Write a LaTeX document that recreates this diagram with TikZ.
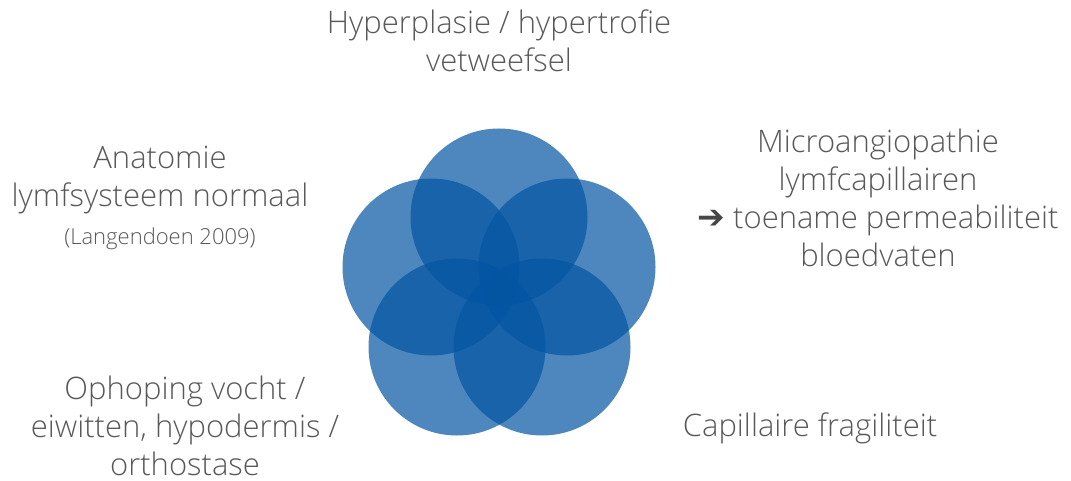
\documentclass[tikz,border=0pt]{standalone}
\usepackage{fontspec}
\setmainfont{Open Sans}[UprightFont=* Light]
\newfontfamily\symfont{DejaVu Sans}
\definecolor{blob}{RGB}{2,84,162}
\definecolor{txt}{RGB}{89,89,89}
\definecolor{arr}{RGB}{70,70,70}
\begin{document}
\begin{tikzpicture}[x=1pt,y=-1pt,
  petal/.style={fill=blob,fill opacity=0.7,draw=none},
  lbl/.style={text=txt,align=center,font=\fontsize{31}{38}\selectfont,inner sep=0pt}]
\useasboundingbox (0,0) rectangle (1071,481);
\fill[petal] (499,217) circle (88.5);
\fill[petal] (431,267) circle (88.5);
\fill[petal] (567,267) circle (88.5);
\fill[petal] (457,347) circle (88.5);
\fill[petal] (542,347) circle (88.5);
\node[lbl] (top) at (499,41) {Hyperplasie / hypertrofie\\vetweefsel};
\node[lbl] (left) at (160,198) {Anatomie\\lymfsysteem normaal\\{\fontsize{22}{26}\selectfont (Langendoen 2009)}};
\node[lbl] (right) at (878,198) {Microangiopathie\\lymfcapillairen\\{\color{arr}\symfont\bfseries\fontsize{33}{38}\selectfont ➔} toename permeabiliteit\\bloedvaten};
\node[lbl] (bl) at (185,426) {Ophoping vocht /\\eiwitten, hypodermis /\\orthostase};
\node[lbl] (br) at (810,428) {Capillaire fragiliteit};
\end{tikzpicture}
\end{document}
